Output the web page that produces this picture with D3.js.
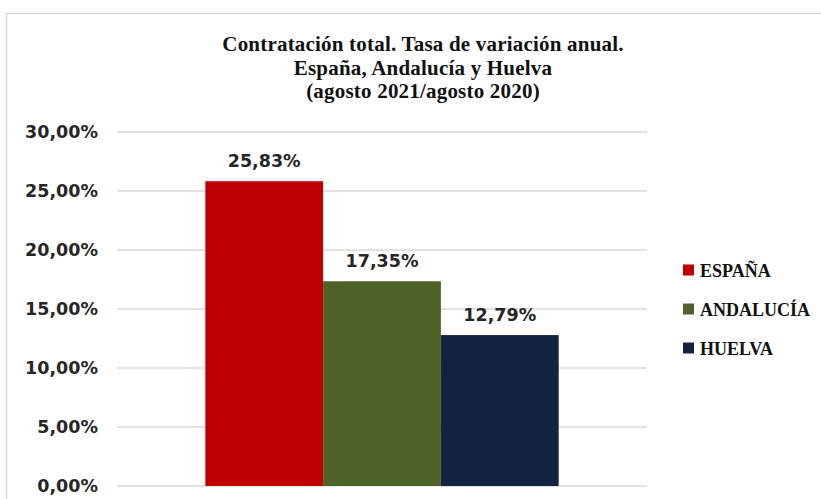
<!DOCTYPE html>
<html>
<head>
<meta charset="utf-8">
<script src="https://cdn.jsdelivr.net/npm/d3@7"></script>
<style>
  html, body { margin: 0; padding: 0; background: #fff; }
  svg { display: block; }
</style>
</head>
<body>
<div id="chart"></div>
<script>
'use strict';

// data
const titleLines = [
    'Contratación total. Tasa de variación anual.',
    'España, Andalucía y Huelva',
    '(agosto 2021/agosto 2020)'
];
const categories = [''];
const seriesNames = ['ESPAÑA', 'ANDALUCÍA', 'HUELVA'];
const seriesValues = [25.83, 17.35, 12.79];
const seriesColors = ['#c00000', '#4f6228', '#122340'];
const yTicks = [0, 5, 10, 15, 20, 25, 30];

const width = 821, height = 499;
const plot = {left: 117, right: 647, top: 132, bottom: 486};

const svg = d3.select('#chart')
  .append('svg')
    .attr('width', width)
    .attr('height', height);

// outer frame
svg.append('rect')
    .attr('x', 6.5)
    .attr('y', 13.5)
    .attr('width', width)
    .attr('height', height)
    .attr('fill', 'none')
    .attr('stroke', '#d9d9d9')
    .attr('stroke-width', 1.5);

// title
svg.append('text')
    .attr('text-anchor', 'middle')
    .attr('font-family', '"Liberation Serif", serif')
    .attr('font-weight', 'bold')
    .attr('font-size', 21)
    .attr('letter-spacing', 0.2)
    .attr('fill', '#111')
  .selectAll('tspan')
  .data(titleLines)
  .join('tspan')
    .attr('x', 423)
    .attr('y', (d, i) => 51 + i * 23.5)
    .text(d => d);

// scales
const y = d3.scaleLinear()
    .domain([0, 30])
    .range([plot.bottom, plot.top]);

const x0 = d3.scaleBand()
    .domain(categories)
    .range([plot.left, plot.right])
    .paddingInner(0)
    .paddingOuter(0.25);

const x1 = d3.scaleBand()
    .domain(seriesNames)
    .range([0, x0.bandwidth()]);

const fmt = v => d3.format('.2f')(v).replace('.', ',') + '%';

// gridlines
svg.append('g')
  .selectAll('line')
  .data(yTicks)
  .join('line')
    .attr('x1', plot.left)
    .attr('x2', plot.right)
    .attr('y1', d => y(d))
    .attr('y2', d => y(d))
    .attr('stroke', '#d9d9d9')
    .attr('stroke-width', 1.5);

// y axis labels
const yAxis = svg.append('g')
    .attr('transform', `translate(${plot.left}, 0)`)
    .call(d3.axisLeft(y).tickValues(yTicks).tickSize(0).tickPadding(19).tickFormat(fmt));
yAxis.select('.domain').remove();
yAxis.selectAll('text')
    .attr('font-family', '"DejaVu Sans", Verdana, sans-serif')
    .attr('font-weight', 'bold')
    .attr('font-size', 17.5)
    .attr('fill', '#262626');

// bars
const group = svg.append('g')
    .attr('transform', `translate(${x0('')}, 0)`);

group.selectAll('rect')
  .data(seriesValues)
  .join('rect')
    .attr('x', (d, i) => x1(seriesNames[i]))
    .attr('y', d => y(d))
    .attr('width', x1.bandwidth())
    .attr('height', d => y(0) - y(d))
    .attr('fill', (d, i) => seriesColors[i]);

// value labels
group.selectAll('text')
  .data(seriesValues)
  .join('text')
    .attr('x', (d, i) => x1(seriesNames[i]) + x1.bandwidth() / 2)
    .attr('y', d => y(d) - 14)
    .attr('text-anchor', 'middle')
    .attr('font-family', '"DejaVu Sans", Verdana, sans-serif')
    .attr('font-weight', 'bold')
    .attr('font-size', 17.5)
    .attr('fill', '#262626')
    .text(fmt);

// legend
const legend = svg.append('g')
  .selectAll('g')
  .data(seriesNames)
  .join('g')
    .attr('transform', (d, i) => `translate(683, ${270 + i * 39})`);

legend.append('rect')
    .attr('x', 0)
    .attr('y', -5.5)
    .attr('width', 11)
    .attr('height', 11)
    .attr('fill', (d, i) => seriesColors[i]);

legend.append('text')
    .attr('x', 17)
    .attr('y', 7)
    .attr('font-family', '"Liberation Serif", serif')
    .attr('font-weight', 'bold')
    .attr('font-size', 18)
    .attr('fill', '#111')
    .text(d => d);
</script>
</body>
</html>
